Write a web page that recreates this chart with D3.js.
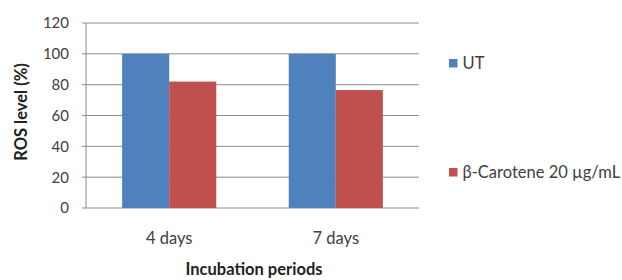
<!DOCTYPE html>
<html>
<head>
<meta charset="utf-8">
<script src="https://cdn.jsdelivr.net/npm/d3@7"></script>
<style>
  body { margin: 0; background: #fff; }
  svg text { font-family: Lato, "Open Sans", sans-serif; }
</style>
</head>
<body>
<div id="chart"></div>
<script>
// chart data
const periods = ['4 days', '7 days'];
const seriesNames = ['UT', 'β-Carotene 20 µg/mL'];
const utValues = [100, 100];
const caroteneValues = [82, 76.5];
const yTicks = [0, 20, 40, 60, 80, 100, 120];
const colors = ['#4F81BD', '#C0504D'];

const width = 622, height = 280;
const margin = {top: 23, right: 203, bottom: 72, left: 86};

const svg = d3.select('#chart').append('svg')
    .attr('width', width)
    .attr('height', height);

const x0 = d3.scaleBand()
    .domain(periods)
    .range([margin.left, width - margin.right])
    .paddingInner(0.435)
    .paddingOuter(0.217);

const x1 = d3.scaleBand()
    .domain(seriesNames)
    .range([0, x0.bandwidth()]);

const y = d3.scaleLinear()
    .domain([0, 120])
    .range([height - margin.bottom, margin.top]);

// gridlines
svg.append('g')
    .selectAll('line')
    .data(yTicks)
    .join('line')
    .attr('x1', margin.left - 4)
    .attr('x2', width - margin.right)
    .attr('y1', d => y(d))
    .attr('y2', d => y(d))
    .style('stroke', '#8c8c8c')
    .style('stroke-width', 1);

// y axis line
svg.append('line')
    .attr('x1', margin.left)
    .attr('x2', margin.left)
    .attr('y1', y(0))
    .attr('y2', y(120))
    .style('stroke', '#8c8c8c');

// tick labels
svg.append('g')
    .selectAll('text')
    .data(yTicks)
    .join('text')
    .attr('x', 69)
    .attr('y', d => y(d))
    .attr('dy', '0.36em')
    .attr('text-anchor', 'end')
    .style('font-size', '15px')
    .style('fill', '#404040')
    .text(d => d);

// bars
const rows = periods.map((p, i) => ({period: p, values: [utValues[i], caroteneValues[i]]}));

svg.append('g')
    .selectAll('g')
    .data(rows)
    .join('g')
    .attr('transform', d => 'translate(' + x0(d.period) + ',0)')
    .selectAll('rect')
    .data(d => d.values.map((v, j) => ({name: seriesNames[j], value: v, color: colors[j]})))
    .join('rect')
    .attr('x', d => x1(d.name))
    .attr('width', x1.bandwidth())
    .attr('y', d => y(d.value))
    .attr('height', d => y(0) - y(d.value))
    .style('fill', d => d.color);

// x labels
svg.append('g')
    .selectAll('text')
    .data(periods)
    .join('text')
    .attr('x', d => x0(d) + x0.bandwidth() / 2)
    .attr('y', 244)
    .attr('text-anchor', 'middle')
    .style('font-size', '16.5px')
    .style('fill', '#404040')
    .text(d => d);

// axis titles
svg.append('text')
    .attr('x', 254)
    .attr('y', 275)
    .attr('text-anchor', 'middle')
    .style('font-size', '16.5px')
    .style('font-weight', 'bold')
    .style('fill', '#222')
    .text('Incubation periods');

svg.append('text')
    .attr('transform', 'translate(27,112) rotate(-90)')
    .attr('text-anchor', 'middle')
    .style('font-size', '16.5px')
    .style('font-weight', 'bold')
    .style('fill', '#222')
    .text('ROS level (%)');

// legend
const legendY = [63, 172];
const legend = svg.append('g')
    .selectAll('g')
    .data(seriesNames)
    .join('g')
    .attr('transform', (d, i) => 'translate(449,' + legendY[i] + ')');

legend.append('rect')
    .attr('x', 0)
    .attr('y', -4)
    .attr('width', 8.5)
    .attr('height', 8.5)
    .style('fill', (d, i) => colors[i]);

legend.append('text')
    .attr('x', 13.5)
    .attr('y', 0)
    .attr('dy', '0.36em')
    .style('font-size', '16.5px')
    .style('fill', '#404040')
    .text(d => d);
</script>
</body>
</html>
